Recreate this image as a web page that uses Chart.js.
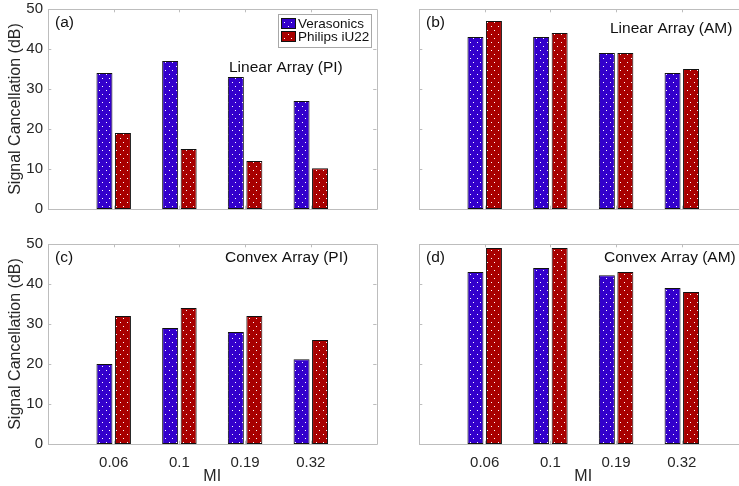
<!DOCTYPE html>
<html>
<head>
<meta charset="utf-8">
<script src="https://cdn.jsdelivr.net/npm/chart.js@4"></script>
<style>
  body { margin: 0; width: 739px; height: 486px; overflow: hidden; background: #fff; }
  canvas { position: absolute; left: 0; top: 0; }
</style>
</head>
<body>
<canvas id="panelA" width="760" height="486"></canvas>
<canvas id="panelB" width="760" height="486"></canvas>
<canvas id="panelC" width="760" height="486"></canvas>
<canvas id="panelD" width="760" height="486"></canvas>
<script>
// MI values on the x axis
const miLabels = ["0.06", "0.1", "0.19", "0.32"];
const seriesNames = ["Verasonics", "Philips iU22"];

// signal cancellation (dB)
const linearPI_vera = [34, 37, 33, 27];
const linearPI_philips = [19, 15, 12, 10.2];
const linearAM_vera = [43, 43, 39, 34];
const linearAM_philips = [47, 44, 39, 35];
const convexPI_vera = [20, 29, 28, 21.2];
const convexPI_philips = [32, 34, 32, 26];
const convexAM_vera = [43, 44, 42.2, 39];
const convexAM_philips = [49, 49, 43, 38];

const veraColor = "#3300cc";
const philipsColor = "#a80000";
const frameColor = "#bdbdbd";
const textColor = "#262626";
const fontFamily = "'Liberation Sans', Arial, sans-serif";

// dotted fill like the matlab hatch
function dotPattern(color) {
  const c = document.createElement("canvas");
  c.width = 7;
  c.height = 8;
  const g = c.getContext("2d");
  g.fillStyle = color;
  g.fillRect(0, 0, 7, 8);
  g.fillStyle = "#ffffff";
  g.fillRect(1, 2, 1, 1);
  g.fillRect(4, 6, 1, 1);
  return g.createPattern(c, "repeat");
}
const veraFill = dotPattern(veraColor);
const philipsFill = dotPattern(philipsColor);

// padded category list so the groups sit at 1..4 on a 0..5 axis
const xLabels = ["", ...miLabels, ""];
const pad = (arr) => [null, ...arr, null];

const framePlugin = {
  id: "frame",
  beforeDatasetsDraw(chart, args, opts) {
    const ctx = chart.ctx;
    const a = chart.chartArea;
    const x = chart.scales.x;
    const y = chart.scales.y;
    const tl = 3.3;
    ctx.save();
    ctx.strokeStyle = frameColor;
    ctx.lineWidth = 1;
    ctx.beginPath();
    ctx.rect(Math.round(a.left) + 0.5, Math.round(a.top) + 0.5,
      Math.round(a.right - a.left), Math.round(a.bottom - a.top));
    for (let v = 0; v <= 50; v += 10) {
      const py = Math.round(y.getPixelForValue(v)) + 0.5;
      ctx.moveTo(a.left, py); ctx.lineTo(a.left + tl, py);
      ctx.moveTo(a.right, py); ctx.lineTo(a.right - tl, py);
    }
    for (let i = 1; i <= miLabels.length; i++) {
      const px = Math.round(x.getPixelForValue(i)) + 0.5;
      ctx.moveTo(px, a.top); ctx.lineTo(px, a.top + tl);
      ctx.moveTo(px, a.bottom); ctx.lineTo(px, a.bottom - tl);
    }
    ctx.stroke();
    ctx.restore();
  },
  afterDraw(chart, args, opts) {
    const ctx = chart.ctx;
    const a = chart.chartArea;
    ctx.save();
    ctx.fillStyle = "#111";
    ctx.textBaseline = "middle";
    ctx.font = "15.5px " + fontFamily;
    ctx.fillText(opts.tag, a.left + 7, a.top + 13.5);
    ctx.fillText(opts.title, a.left + opts.titleDx, a.top + opts.titleDy);
    if (opts.legend) {
      const lx = a.left + 230, ly = a.top + 5;
      ctx.fillStyle = "#fff";
      ctx.fillRect(lx, ly, 94, 34);
      ctx.strokeStyle = "#a8a8a8";
      ctx.strokeRect(lx + 0.5, ly + 0.5, 93, 33);
      const fills = [veraFill, philipsFill];
      ctx.font = "13.5px " + fontFamily;
      seriesNames.forEach((name, i) => {
        const py = ly + 4 + i * 13;
        ctx.fillStyle = fills[i];
        ctx.fillRect(lx + 3, py, 15, 11);
        ctx.strokeStyle = "#111";
        ctx.strokeRect(lx + 3.5, py + 0.5, 14, 10);
        ctx.fillStyle = "#111";
        ctx.fillText(name, lx + 20, py + 6);
      });
    }
    ctx.restore();
  },
};

function makePanel(canvasID, veraValues, philipsValues, panel) {
  const ctx = document.getElementById(canvasID);
  new Chart(ctx, {
    type: "bar",
    data: {
      labels: xLabels,
      datasets: [
        {
          label: seriesNames[0],
          data: pad(veraValues),
          backgroundColor: veraFill,
          borderColor: "#111",
          borderWidth: 1,
          borderSkipped: false,
        },
        {
          label: seriesNames[1],
          data: pad(philipsValues),
          backgroundColor: philipsFill,
          borderColor: "#111",
          borderWidth: 1,
          borderSkipped: false,
        },
      ],
    },
    options: {
      responsive: false,
      animation: false,
      events: [],
      categoryPercentage: 0.563,
      barPercentage: 0.865,
      layout: { padding: panel.padding },
      scales: {
        x: {
          offset: false,
          grid: { display: false, drawTicks: false },
          border: { display: false },
          ticks: {
            display: panel.bottomRow,
            autoSkip: false,
            maxRotation: 0,
            padding: 10,
            color: textColor,
            font: { family: fontFamily, size: 15 },
          },
          title: {
            display: panel.bottomRow,
            text: "MI",
            color: textColor,
            padding: { top: 0, bottom: 0 },
            font: { family: fontFamily, size: 16 },
          },
          afterFit(scale) {
            scale.height = panel.bottomRow ? 42 : 0;
            scale.paddingLeft = scale.paddingRight = 0;
          },
        },
        y: {
          min: 0,
          max: 50,
          grid: { display: false, drawTicks: false },
          border: { display: false },
          ticks: {
            display: panel.leftCol,
            stepSize: 10,
            padding: 5,
            color: textColor,
            font: { family: fontFamily, size: 15 },
          },
          title: {
            display: panel.leftCol,
            text: "Signal Cancellation (dB)",
            color: textColor,
            padding: { top: 6, bottom: 0 },
            font: { family: fontFamily, size: 16 },
          },
          afterFit(scale) {
            scale.width = panel.leftCol ? 48 : 0;
            scale.paddingTop = scale.paddingBottom = 0;
          },
        },
      },
      plugins: {
        legend: { display: false },
        tooltip: { enabled: false },
        frame: panel.frame,
      },
    },
    plugins: [framePlugin],
  });
}

makePanel("panelA", linearPI_vera, linearPI_philips, {
  padding: { left: 0, top: 9, right: 383.5, bottom: 277 },
  leftCol: true, bottomRow: false,
  frame: { tag: "(a)", title: "Linear Array (PI)", titleDx: 181, titleDy: 59, legend: true },
});
makePanel("panelB", linearAM_vera, linearAM_philips, {
  padding: { left: 419, top: 9, right: 12.5, bottom: 277 },
  leftCol: false, bottomRow: false,
  frame: { tag: "(b)", title: "Linear Array (AM)", titleDx: 191, titleDy: 20, legend: false },
});
makePanel("panelC", convexPI_vera, convexPI_philips, {
  padding: { left: 0, top: 244, right: 383.5, bottom: 0 },
  leftCol: true, bottomRow: true,
  frame: { tag: "(c)", title: "Convex Array (PI)", titleDx: 177, titleDy: 14, legend: false },
});
makePanel("panelD", convexAM_vera, convexAM_philips, {
  padding: { left: 419, top: 244, right: 12.5, bottom: 0 },
  leftCol: false, bottomRow: true,
  frame: { tag: "(d)", title: "Convex Array (AM)", titleDx: 185, titleDy: 14, legend: false },
});
</script>
</body>
</html>
